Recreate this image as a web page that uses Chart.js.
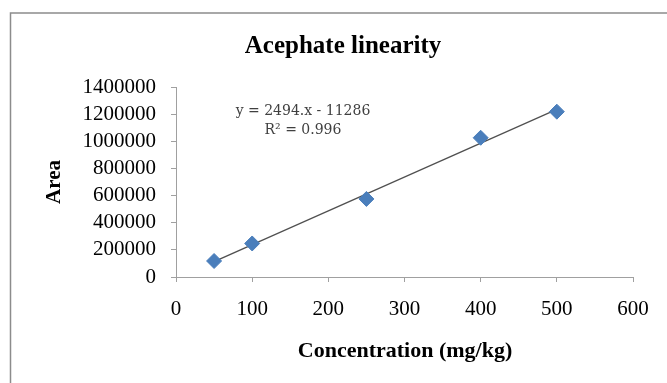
<!DOCTYPE html>
<html><head><meta charset="utf-8">
<script src="https://cdn.jsdelivr.net/npm/chart.js@4/dist/chart.umd.min.js"></script>
<style>html,body{margin:0;padding:0;background:#fff;}#wrap{position:absolute;left:0;top:0;width:667px;height:383px;}</style>
</head><body>
<div id="wrap"><canvas id="c" width="667" height="383"></canvas></div>
<script>
const concentration = [50, 100, 250, 400, 500];
const area = [118000, 247000, 575000, 1026000, 1218000];
const trendX = [50, 500];
const trendY = [113414, 1235714];
const xTicks = [0, 100, 200, 300, 400, 500, 600];
const yTicks = [0, 200000, 400000, 600000, 800000, 1000000, 1200000, 1400000];
const chartTitle = 'Acephate linearity';
const xTitle = 'Concentration (mg/kg)';
const yTitle = 'Area';
const eqLine1 = 'y = 2494.x - 11286';
const eqLine2 = 'R² = 0.996';

const decor = {
  id: 'decor',
  beforeDraw(chart) {
    const ctx = chart.ctx;
    ctx.save();
    ctx.strokeStyle = '#8c8c8c';
    ctx.lineWidth = 1.5;
    ctx.strokeRect(10.5, 13, 700, 400);
    ctx.restore();
  },
  afterDraw(chart) {
    const ctx = chart.ctx;
    ctx.save();
    ctx.fillStyle = '#000';
    ctx.textAlign = 'center';
    ctx.textBaseline = 'alphabetic';
    ctx.font = 'bold 25px "Liberation Serif"';
    ctx.fillText(chartTitle, 343, 53);
    ctx.font = 'bold 22px "Liberation Serif"';
    ctx.fillText(xTitle, 405, 357);
    ctx.font = 'bold 21px "Liberation Serif"';
    ctx.translate(60, 182);
    ctx.rotate(-Math.PI / 2);
    ctx.fillText(yTitle, 0, 0);
    ctx.restore();
    ctx.save();
    ctx.fillStyle = '#404040';
    ctx.textAlign = 'center';
    ctx.textBaseline = 'middle';
    ctx.font = '14px "DejaVu Serif"';
    ctx.fillText(eqLine1, 303, 111);
    ctx.fillText(eqLine2, 303, 130);
    ctx.restore();
  }
};

new Chart(document.getElementById('c'), {
  type: 'scatter',
  data: {
    datasets: [
      {
        label: 'Trend',
        type: 'line',
        data: trendX.map((x, i) => ({x, y: trendY[i]})),
        borderColor: '#505050',
        borderWidth: 1.3,
        pointRadius: 0,
        fill: false,
        order: 2
      },
      {
        label: 'Area',
        data: concentration.map((x, i) => ({x, y: area[i]})),
        backgroundColor: '#4a7ebb',
        borderColor: '#4a7ebb',
        pointStyle: 'rectRot',
        pointRadius: 7.5,
        order: 1
      }
    ]
  },
  options: {
    responsive: false,
    animation: false,
    devicePixelRatio: 1,
    layout: { padding: { left: 20, right: 34, top: 87, bottom: 20 } },
    plugins: { legend: { display: false }, tooltip: { enabled: false }, title: { display: false } },
    scales: {
      x: {
        type: 'linear', min: 0, max: 600,
        afterBuildTicks(s) { s.ticks = xTicks.map(v => ({value: v})); },
        afterFit(s) { s.height = 86; },
        grid: { drawOnChartArea: false, drawTicks: true, tickLength: 5, tickColor: '#a0a0a0' },
        border: { display: true, color: '#a0a0a0', width: 1 },
        ticks: { color: '#000', font: { family: 'Liberation Serif', size: 21 }, padding: 15, maxRotation: 0, autoSkip: false }
      },
      y: {
        type: 'linear', min: 0, max: 1400000,
        afterBuildTicks(s) { s.ticks = yTicks.map(v => ({value: v})); },
        afterFit(s) { s.width = 156; },
        grid: { drawOnChartArea: false, drawTicks: true, tickLength: 5, tickColor: '#a0a0a0' },
        border: { display: true, color: '#a0a0a0', width: 1 },
        ticks: { color: '#000', font: { family: 'Liberation Serif', size: 21 }, padding: 15, autoSkip: false, callback: v => String(v) }
      }
    }
  },
  plugins: [decor]
});
</script>
</body></html>
